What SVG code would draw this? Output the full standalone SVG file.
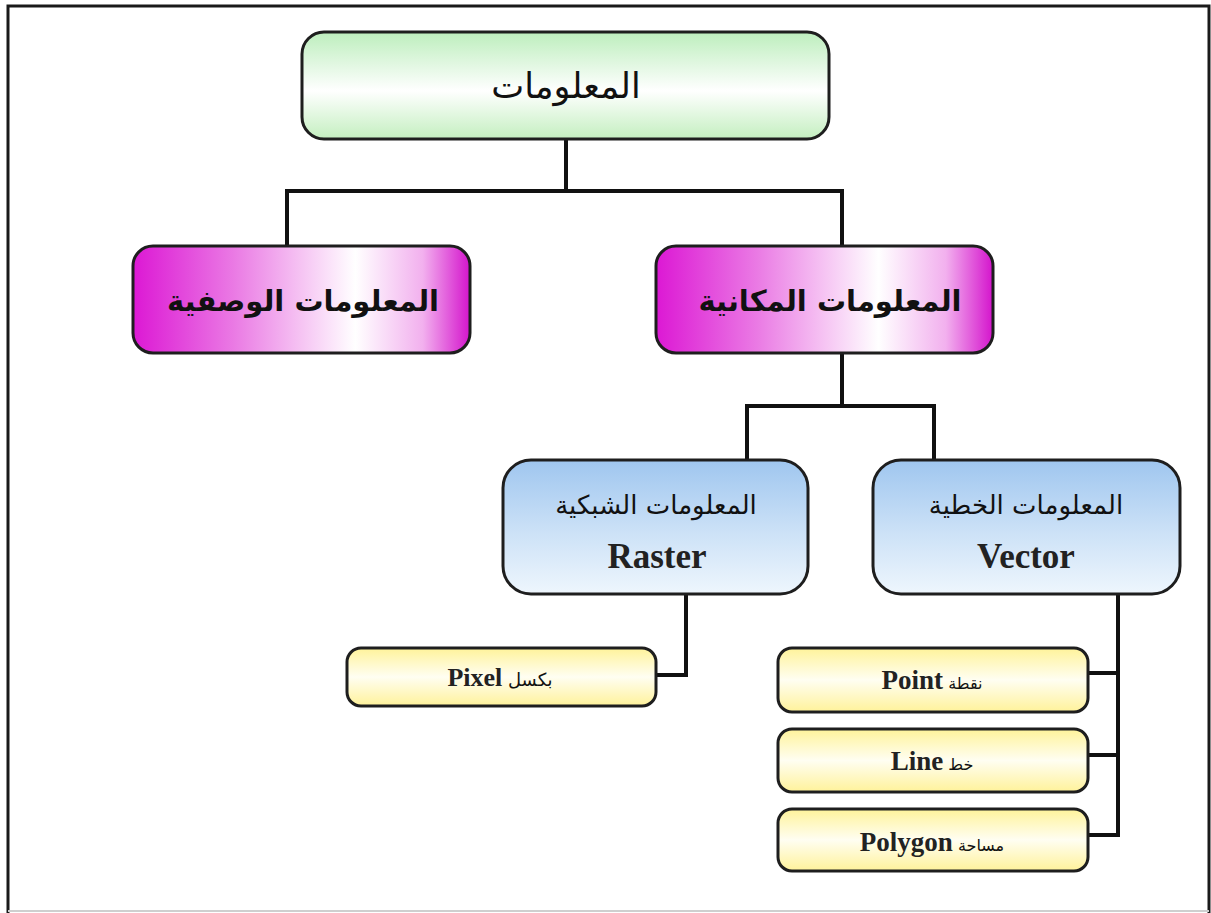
<svg xmlns="http://www.w3.org/2000/svg" width="1211" height="913" viewBox="0 0 1211 913">
<defs>
<linearGradient id="gGreen" x1="0" y1="0" x2="0" y2="1">
<stop offset="0" stop-color="#bdeebd"/><stop offset="0.55" stop-color="#ffffff"/><stop offset="1" stop-color="#c4efc0"/>
</linearGradient>
<linearGradient id="gPink" x1="0" y1="0" x2="1" y2="0">
<stop offset="0" stop-color="#dc18d4"/><stop offset="0.3" stop-color="#ea7ae4"/><stop offset="0.66" stop-color="#ffffff"/><stop offset="0.86" stop-color="#f2b0ee"/><stop offset="1" stop-color="#d414cc"/>
</linearGradient>
<linearGradient id="gBlue" x1="0" y1="0" x2="0" y2="1">
<stop offset="0" stop-color="#9fc6ef"/><stop offset="0.55" stop-color="#cde2f7"/><stop offset="1" stop-color="#eef6fd"/>
</linearGradient>
<linearGradient id="gYellow" x1="0" y1="0" x2="0" y2="1">
<stop offset="0" stop-color="#fff39a"/><stop offset="0.5" stop-color="#fffef2"/><stop offset="1" stop-color="#fff29a"/>
</linearGradient>
</defs>
<style>
.box{stroke:#1e1e1e;stroke-width:3}
.conn{stroke:#111;stroke-width:4;fill:none;stroke-linejoin:miter}
.ar{font-family:"DejaVu Sans",sans-serif;fill:#111;text-anchor:middle}
.en{font-family:"Liberation Serif",serif;font-weight:bold;fill:#222;text-anchor:middle}
</style>
<rect width="1211" height="913" fill="#ffffff"/>
<g id="frame" fill="none">
<path d="M8,913 V6 H1209 V913" stroke="#1a1a1a" stroke-width="3"/>
<line x1="8" y1="911" x2="1209" y2="911" stroke="#cfcfcf" stroke-width="2"/>
</g>
<g id="connectors" class="conn">
<path d="M566,140 V191 M287,246 V191 H842 V246"/>
<path d="M842,353 V406 M747,460 V406 H934 V460"/>
<path d="M686,594 V675 H656"/>
<path d="M1118,594 V835 H1088 M1088,673 H1118 M1088,755 H1118"/>
</g>
<g id="n-info">
<rect class="box" x="302" y="32" width="527" height="107" rx="22" fill="url(#gGreen)"/>
<text class="ar" x="566" y="98" font-size="35">المعلومات</text>
</g>
<g id="n-attr">
<rect class="box" x="133" y="246" width="337" height="107" rx="20" fill="url(#gPink)"/>
<text class="ar" x="303" y="311" font-size="29" font-weight="bold">المعلومات الوصفية</text>
</g>
<g id="n-spatial">
<rect class="box" x="656" y="246" width="337" height="107" rx="20" fill="url(#gPink)"/>
<text class="ar" x="830" y="311" font-size="29" font-weight="bold">المعلومات المكانية</text>
</g>
<g id="n-raster">
<rect class="box" x="503" y="460" width="305" height="134" rx="28" fill="url(#gBlue)"/>
<text class="ar" x="656" y="514" font-size="26">المعلومات الشبكية</text>
<text class="en" x="657" y="568" font-size="35">Raster</text>
</g>
<g id="n-vector">
<rect class="box" x="873" y="460" width="307" height="134" rx="28" fill="url(#gBlue)"/>
<text class="ar" x="1026" y="514" font-size="26">المعلومات الخطية</text>
<text class="en" x="1026" y="568" font-size="35">Vector</text>
</g>
<g id="n-pixel">
<rect class="box" x="347" y="648" width="309" height="58" rx="14" fill="url(#gYellow)"/>
<text class="en" x="500" y="686" font-size="26"><tspan>Pixel</tspan><tspan class="ar" font-size="18" font-weight="normal"> بكسل</tspan></text>
</g>
<g id="n-point">
<rect class="box" x="778" y="648" width="310" height="64" rx="14" fill="url(#gYellow)"/>
<text class="en" x="932" y="689" font-size="27"><tspan>Point</tspan><tspan class="ar" font-size="16" font-weight="normal"> نقطة</tspan></text>
</g>
<g id="n-line">
<rect class="box" x="778" y="729" width="310" height="63" rx="14" fill="url(#gYellow)"/>
<text class="en" x="932" y="770" font-size="27"><tspan>Line</tspan><tspan class="ar" font-size="16" font-weight="normal"> خط</tspan></text>
</g>
<g id="n-polygon">
<rect class="box" x="778" y="809" width="310" height="62" rx="14" fill="url(#gYellow)"/>
<text class="en" x="932" y="851" font-size="27"><tspan>Polygon</tspan><tspan class="ar" font-size="16" font-weight="normal"> مساحة</tspan></text>
</g>
</svg>
